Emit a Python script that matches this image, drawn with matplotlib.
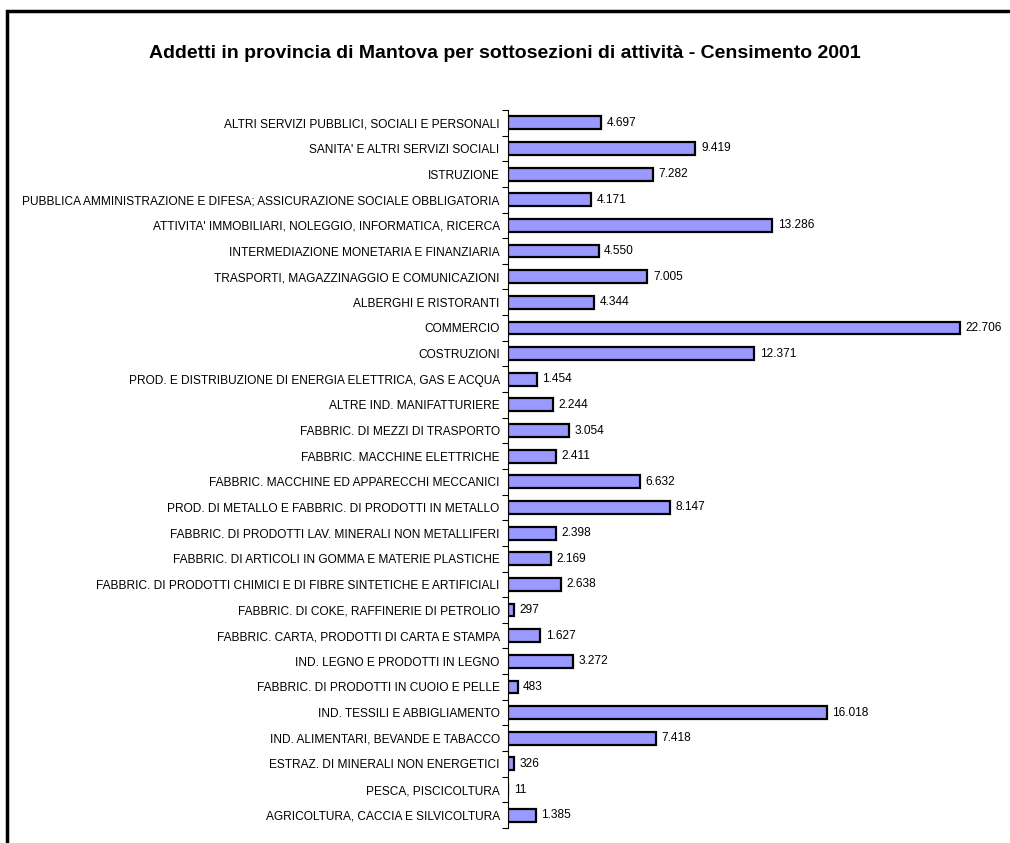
"""Addetti in provincia di Mantova - barre orizzontali"""

import matplotlib
matplotlib.use("Agg")
import matplotlib.pyplot as plt
from matplotlib.patches import Rectangle

plt.rcParams['font.family'] = ['Liberation Sans', 'DejaVu Sans']

# categorie (dal basso verso l'alto) e valori
categorie = [
    "AGRICOLTURA, CACCIA E SILVICOLTURA",
    "PESCA, PISCICOLTURA",
    "ESTRAZ. DI MINERALI NON ENERGETICI",
    "IND. ALIMENTARI, BEVANDE E TABACCO",
    "IND. TESSILI E ABBIGLIAMENTO",
    "FABBRIC. DI PRODOTTI IN CUOIO E PELLE",
    "IND. LEGNO E PRODOTTI IN LEGNO",
    "FABBRIC. CARTA, PRODOTTI DI CARTA E STAMPA",
    "FABBRIC. DI COKE, RAFFINERIE DI PETROLIO",
    "FABBRIC. DI PRODOTTI CHIMICI E DI FIBRE SINTETICHE E ARTIFICIALI",
    "FABBRIC. DI ARTICOLI IN GOMMA E MATERIE PLASTICHE",
    "FABBRIC. DI PRODOTTI LAV. MINERALI NON METALLIFERI",
    "PROD. DI METALLO E FABBRIC. DI PRODOTTI IN METALLO",
    "FABBRIC. MACCHINE ED APPARECCHI MECCANICI",
    "FABBRIC. MACCHINE ELETTRICHE",
    "FABBRIC. DI MEZZI DI TRASPORTO",
    "ALTRE IND. MANIFATTURIERE",
    "PROD. E DISTRIBUZIONE DI ENERGIA ELETTRICA, GAS E ACQUA",
    "COSTRUZIONI",
    "COMMERCIO",
    "ALBERGHI E RISTORANTI",
    "TRASPORTI, MAGAZZINAGGIO E COMUNICAZIONI",
    "INTERMEDIAZIONE MONETARIA E FINANZIARIA",
    "ATTIVITA' IMMOBILIARI, NOLEGGIO, INFORMATICA, RICERCA",
    "PUBBLICA AMMINISTRAZIONE E DIFESA; ASSICURAZIONE SOCIALE OBBLIGATORIA",
    "ISTRUZIONE",
    "SANITA' E ALTRI SERVIZI SOCIALI",
    "ALTRI SERVIZI PUBBLICI, SOCIALI E PERSONALI",
]
addetti = [1385, 11, 326, 7418, 16018, 483, 3272, 1627, 297, 2638, 2169,
           2398, 8147, 6632, 2411, 3054, 2244, 1454, 12371, 22706, 4344,
           7005, 4550, 13286, 4171, 7282, 9419, 4697]

W, H = 1010, 843
fig = plt.figure(figsize=(W / 100, H / 100), dpi=100)

# cornice esterna
fig.patches.append(Rectangle((7 / W, -0.1), 1.1, 1 - 11 / H + 0.1,
                             transform=fig.transFigure, fill=False,
                             edgecolor='black', linewidth=2.5))

ax = fig.add_axes([508 / W, 1 - 828 / H, (1005 - 508) / W, (828 - 110) / H])
n = len(categorie)
y = list(range(n))
ax.barh(y, addetti, height=0.5, color='#9999FF', edgecolor='black',
        linewidth=1.6)
ax.set_xlim(0, 24970)
ax.set_ylim(-0.5, n - 0.5)

# etichette valori
for yi, v in zip(y, addetti):
    ax.text(v + 280, yi, f"{v:,}".replace(",", "."), va='center',
            ha='left', fontsize=8.6)

for s in ['top', 'right', 'bottom']:
    ax.spines[s].set_visible(False)
ax.spines['left'].set_linewidth(0.8)
ax.set_xticks([])
# tacche tra le categorie, etichette al centro
ax.set_yticks([i - 0.5 for i in range(n + 1)], minor=False)
ax.set_yticklabels([])
ax.tick_params(axis='y', length=4, width=0.8, direction='out')
ax.set_yticks(y, minor=True)
ax.set_yticklabels(categorie, minor=True, fontsize=8.6)
ax.tick_params(axis='y', which='minor', length=0, pad=6)

fig.text(0.5, 1 - 53 / H, "Addetti in provincia di Mantova per sottosezioni "
         "di attività - Censimento 2001", ha='center', va='center',
         fontsize=14, fontweight='bold')

fig.savefig("out.png", dpi=100)
